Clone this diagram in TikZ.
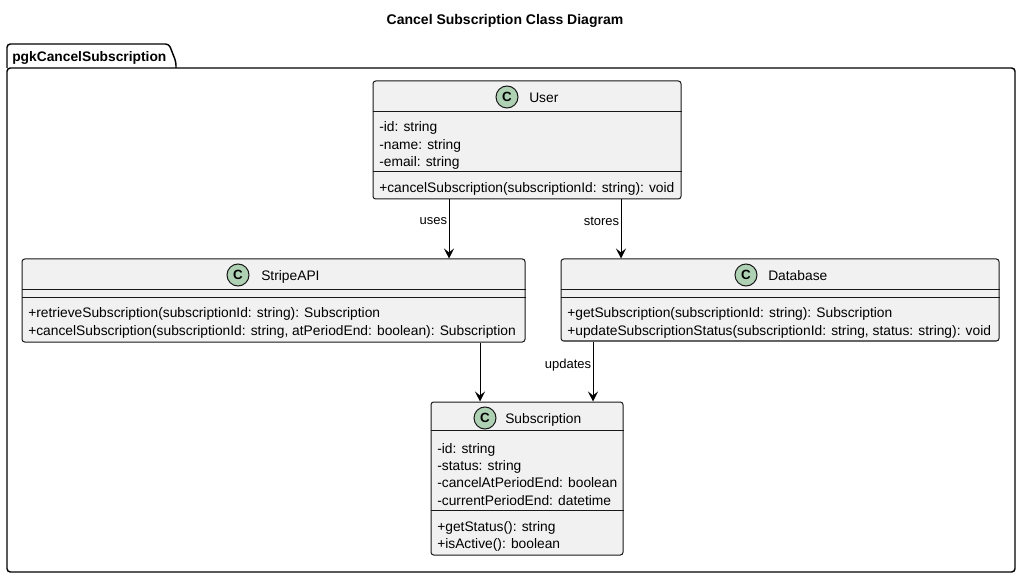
\documentclass[tikz,border=0pt]{standalone}
\usepackage{fontspec}
\setmainfont{Liberation Sans}
\usetikzlibrary{arrows.meta,fit}
\definecolor{boxfill}{HTML}{F1F1F1}
\definecolor{boxline}{HTML}{181818}
\definecolor{circfill}{HTML}{ADD1B2}
\tikzset{
  classbox/.style={draw=boxline, fill=boxfill, line width=0.75pt, rounded corners=2pt, inner sep=0pt},
  sepline/.style={draw=boxline, line width=0.75pt},
  member/.style={anchor=base west, inner sep=0pt, font=\fontsize{10.35pt}{12pt}\selectfont},
  cname/.style={anchor=base west, inner sep=0pt, font=\fontsize{10.35pt}{12pt}\selectfont},
  cmark/.style={circle, draw=boxline, fill=circfill, line width=0.75pt, minimum size=16.5pt, inner sep=0pt, font=\bfseries\fontsize{10pt}{12pt}\selectfont},
  arr/.style={draw=black, line width=0.75pt, -{Stealth[length=7.5pt, width=7.5pt, inset=3pt]}},
  elabel/.style={font=\fontsize{9.75pt}{11pt}\selectfont, inner sep=1pt},
  pkg/.style={draw=black, line width=1.1pt, rounded corners=2.5pt},
}
\begin{document}
\begin{tikzpicture}[x=0.75pt, y=-0.75pt]
\useasboundingbox[fill=white] (0,0) rectangle (1021,577);
% title
\node[font=\bfseries\fontsize{10.5pt}{12pt}\selectfont] (title) at (505,21) {Cancel Subscription Class Diagram};
% package
\draw[pkg] (7,68) -- (7,44) -- (169,44) -- (176,62) -- (176,68);
\draw[pkg] (7,68) rectangle (1015,572);
\node[anchor=base west, inner sep=0pt, font=\bfseries\fontsize{10.35pt}{12pt}\selectfont] (pkgname) at (12,62) {pgkCancelSubscription};

% User
\node[classbox, fit={(373,81) (681,199)}] (user) {};
\draw[sepline] (user.west |- 0,112) -- (user.east |- 0,112);
\draw[sepline] (user.west |- 0,172) -- (user.east |- 0,172);
\node[cmark] (userc) at (507,97) {C};
\node[cname] (username) at (529,102.5) {User};
\node[member] (u1) at (379,131.5) {-id: string};
\node[member] (u2) at (379,149.5) {-name: string};
\node[member] (u3) at (379,166.5) {-email: string};
\node[member] (u4) at (379,192.5) {+cancelSubscription(subscriptionId: string): void};

% StripeAPI
\node[classbox, fit={(22,259) (525,342)}] (stripe) {};
\draw[sepline] (stripe.west |- 0,290) -- (stripe.east |- 0,290);
\draw[sepline] (stripe.west |- 0,298) -- (stripe.east |- 0,298);
\node[cmark] (stripec) at (238,275) {C};
\node[cname] (stripename) at (261,280.5) {StripeAPI};
\node[member] (s1) at (28,317.5) {+retrieveSubscription(subscriptionId: string): Subscription};
\node[member] (s2) at (28,335.5) {+cancelSubscription(subscriptionId: string, atPeriodEnd: boolean): Subscription};

% Database
\node[classbox, fit={(561,259) (999,341)}] (db) {};
\draw[sepline] (db.west |- 0,290) -- (db.east |- 0,290);
\draw[sepline] (db.west |- 0,298) -- (db.east |- 0,298);
\node[cmark] (dbc) at (746,275) {C};
\node[cname] (dbname) at (768,280.5) {Database};
\node[member] (d1) at (567,317.5) {+getSubscription(subscriptionId: string): Subscription};
\node[member] (d2) at (567,335.5) {+updateSubscriptionStatus(subscriptionId: string, status: string): void};

% Subscription
\node[classbox, fit={(431,402) (623,555)}] (sub) {};
\draw[sepline] (sub.west |- 0,430) -- (sub.east |- 0,430);
\draw[sepline] (sub.west |- 0,510) -- (sub.east |- 0,510);
\node[cmark] (subc) at (485,418) {C};
\node[cname] (subname) at (505,423.5) {Subscription};
\node[member] (b1) at (437,453.5) {-id: string};
\node[member] (b2) at (437,470.5) {-status: string};
\node[member] (b3) at (437,487.5) {-cancelAtPeriodEnd: boolean};
\node[member] (b4) at (437,505.5) {-currentPeriodEnd: datetime};
\node[member] (b5) at (437,531.5) {+getStatus(): string};
\node[member] (b6) at (437,548.5) {+isActive(): boolean};

% connectors
\coordinate (xa) at (449,0);
\coordinate (xb) at (621,0);
\coordinate (xc) at (480,0);
\coordinate (xd) at (593,0);
\draw[arr] (user.south -| xa) -- (stripe.north -| xa) node[elabel, pos=0.37, anchor=east] {uses};
\draw[arr] (user.south -| xb) -- (db.north -| xb) node[elabel, pos=0.37, anchor=east] {stores};
\draw[arr] (stripe.south -| xc) -- (sub.north -| xc);
\draw[arr] (db.south -| xd) -- (sub.north -| xd) node[elabel, pos=0.4, anchor=east] {updates};
\end{tikzpicture}
\end{document}
